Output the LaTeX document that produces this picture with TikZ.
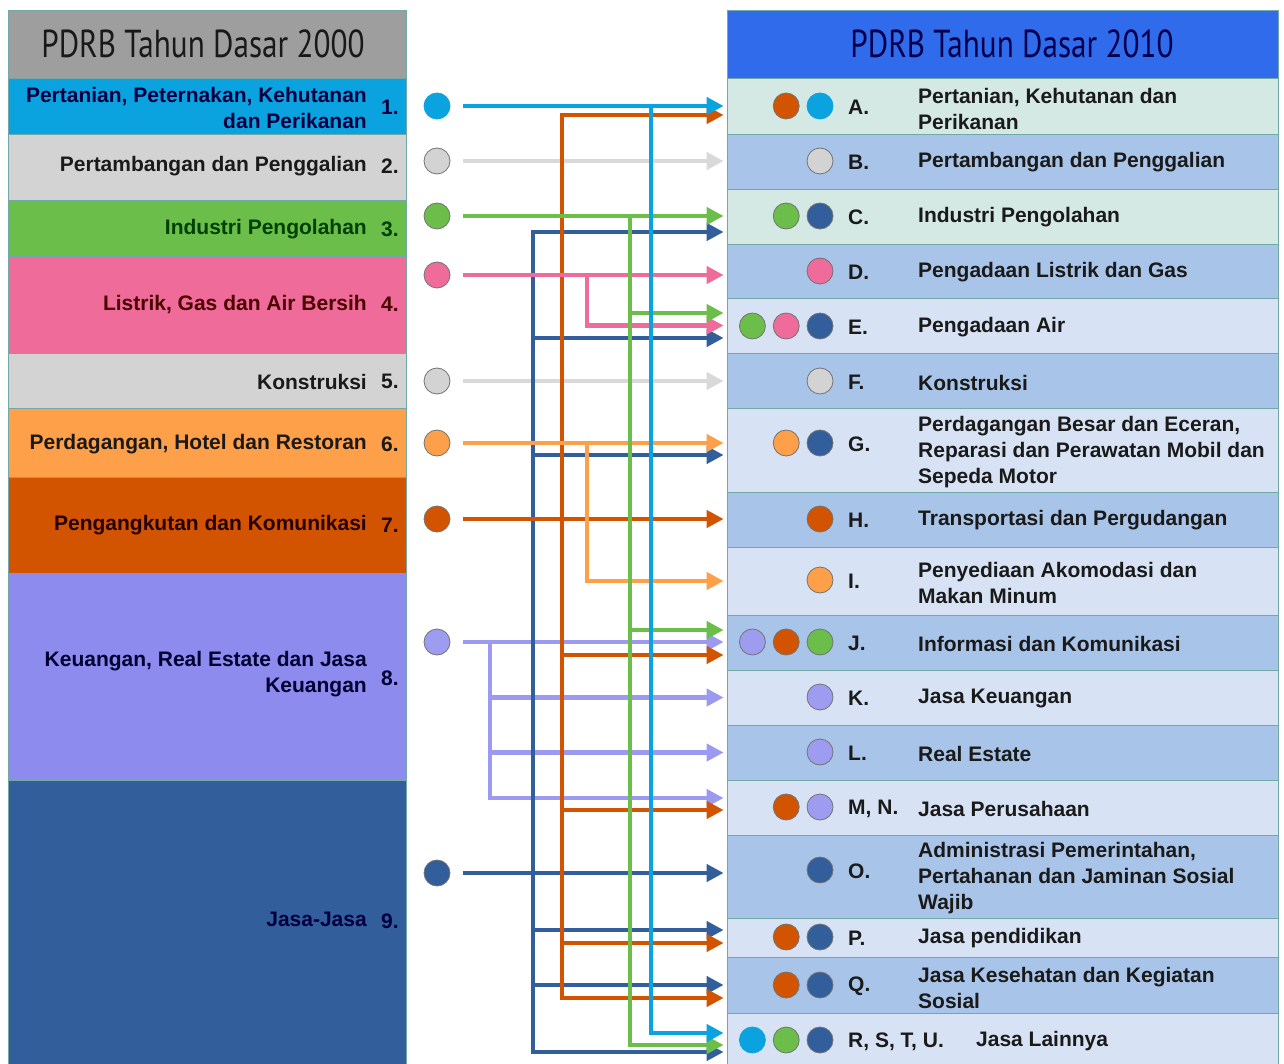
\documentclass[tikz,border=0pt]{standalone}
\usepackage{fontspec}
\setmainfont{Liberation Sans}
\newfontfamily\headfont[FakeStretch=0.80]{PT Sans}
\usetikzlibrary{arrows.meta, positioning, calc}

\definecolor{cAgri}{HTML}{0AA3E0}
\definecolor{cMine}{HTML}{D3D3D3}
\definecolor{cMineLine}{HTML}{D9D9D9}
\definecolor{cInd}{HTML}{6CBE4A}
\definecolor{cElec}{HTML}{EF6B9A}
\definecolor{cTrade}{HTML}{FDA049}
\definecolor{cTrans}{HTML}{D35400}
\definecolor{cFin}{HTML}{8D8BED}
\definecolor{cFinLine}{HTML}{9C99F0}
\definecolor{cServ}{HTML}{325E9B}
\definecolor{hdGray}{HTML}{9E9E9E}
\definecolor{hdBlue}{HTML}{2F6BEA}
\definecolor{rowMint}{HTML}{D4E8E4}
\definecolor{rowMid}{HTML}{A9C4E9}
\definecolor{rowLight}{HTML}{D7E3F4}
\definecolor{edgeTeal}{HTML}{72A8A6}
\definecolor{txtDark}{HTML}{1A1A1A}

\newcommand{\rowfont}{\bfseries\fontsize{21}{26}\selectfont}
\newcommand{\titlefont}{\headfont\fontsize{39}{40}\selectfont}

\tikzset{
  row/.style={rectangle, inner sep=0pt, draw=edgeTeal, line width=0.8pt},
  lrow/.style={row, minimum width=398},
  rrow/.style={row, minimum width=551},
  ltxt/.style={anchor=east, inner sep=0pt, align=right, font=\rowfont, yshift=-1.5pt},
  lnum/.style={anchor=west, inner sep=0pt, font=\rowfont, yshift=-1.5pt},
  rlet/.style={anchor=west, inner sep=0pt, font=\rowfont, text=txtDark, yshift=-1.5pt},
  rtxt/.style={anchor=west, inner sep=0pt, align=left, font=\rowfont, text=txtDark, yshift=-1.5pt},
  dot/.style={circle, inner sep=0pt, minimum size=26, draw=black!55, line width=0.8pt},
  flow/.style={line width=4.5pt, -{Triangle[length=17pt, width=17pt]}, shorten >=3pt},
  flowtwo/.style={flow, {Triangle[length=17pt, width=17pt]}-{Triangle[length=17pt, width=17pt]}, shorten <=3pt},
  fromdot/.style={flow, shorten <=13pt}
}

\begin{document}
\begin{tikzpicture}[x=1pt, y=-1pt]
        \fill[white] (0,0) rectangle (1284,1064);
        \useasboundingbox (0,0) rectangle (1284,1064);

        % Left column: PDRB 2000
        \node[lrow, fill=hdGray, minimum height=68, font=\titlefont, text=black!90] (h2000) at (207,44) {\hspace*{-8pt}PDRB Tahun Dasar 2000};
        \node[lrow, fill=cAgri, minimum height=56] (s1) at (207,106) {};
        \node[lrow, fill=cMine, minimum height=66] (s2) at (207,167) {};
        \node[lrow, fill=cInd, minimum height=56] (s3) at (207,228) {};
        \node[lrow, fill=cElec, minimum height=97] (s4) at (207,304.5) {};
        \node[lrow, fill=cMine, minimum height=55] (s5) at (207,380.5) {};
        \node[lrow, fill=cTrade, minimum height=69] (s6) at (207,442.5) {};
        \node[lrow, fill=cTrans, minimum height=96] (s7) at (207,525) {};
        \node[lrow, fill=cFin, minimum height=207] (s8) at (207,676.5) {};
        \node[lrow, fill=cServ, minimum height=300] (s9) at (207,930) {};

        \node[ltxt, text=blue!25!black] (t1) at (367,106) {Pertanian, Peternakan, Kehutanan\\dan Perikanan};
        \node[ltxt, text=txtDark] (t2) at (367,165) {Pertambangan dan Penggalian};
        \node[ltxt, text=green!25!black] (t3) at (367,228) {Industri Pengolahan};
        \node[ltxt, text=red!30!black] (t4) at (367,303) {Listrik, Gas dan Air Bersih};
        \node[ltxt, text=txtDark] (t5) at (367,380) {Konstruksi};
        \node[ltxt, text=txtDark] (t6) at (367,443) {Perdagangan, Hotel dan Restoran};
        \node[ltxt, text=black!85!red] (t7) at (367,524) {Pengangkutan dan Komunikasi};
        \node[ltxt, text=blue!20!black] (t8) at (367,673) {Keuangan, Real Estate dan Jasa\\Keuangan};
        \node[ltxt, text=blue!25!black] (t9) at (367,918) {Jasa-Jasa};

        \node[lnum, text=blue!25!black] (n1) at (381,106) {1.};
        \node[lnum, text=txtDark] (n2) at (381,165) {2.};
        \node[lnum, text=green!25!black] (n3) at (381,228) {3.};
        \node[lnum, text=red!30!black] (n4) at (381,303) {4.};
        \node[lnum, text=txtDark] (n5) at (381,380) {5.};
        \node[lnum, text=txtDark] (n6) at (381,443) {6.};
        \node[lnum, text=black!85!red] (n7) at (381,524) {7.};
        \node[lnum, text=blue!20!black] (n8) at (381,677) {8.};
        \node[lnum, text=blue!25!black] (n9) at (381,920) {9.};

        % Right column: PDRB 2010
        \node[rrow, fill=hdBlue, minimum height=68, font=\titlefont, text=blue!30!black] (h2010) at (1002.5,44) {\hspace*{19pt}PDRB Tahun Dasar 2010};
        \node[rrow, fill=rowMint, minimum height=56] (rA) at (1002.5,106) {};
        \node[rrow, fill=rowMid, minimum height=55] (rB) at (1002.5,161.5) {};
        \node[rrow, fill=rowMint, minimum height=55] (rC) at (1002.5,216.5) {};
        \node[rrow, fill=rowMid, minimum height=54] (rD) at (1002.5,271) {};
        \node[rrow, fill=rowLight, minimum height=55] (rE) at (1002.5,325.5) {};
        \node[rrow, fill=rowMid, minimum height=55] (rF) at (1002.5,380.5) {};
        \node[rrow, fill=rowLight, minimum height=84] (rG) at (1002.5,450) {};
        \node[rrow, fill=rowMid, minimum height=55] (rH) at (1002.5,519.5) {};
        \node[rrow, fill=rowLight, minimum height=68] (rI) at (1002.5,581) {};
        \node[rrow, fill=rowMid, minimum height=55] (rJ) at (1002.5,642.5) {};
        \node[rrow, fill=rowLight, minimum height=55] (rK) at (1002.5,697.5) {};
        \node[rrow, fill=rowMid, minimum height=55] (rL) at (1002.5,752.5) {};
        \node[rrow, fill=rowLight, minimum height=55] (rM) at (1002.5,807.5) {};
        \node[rrow, fill=rowMid, minimum height=83] (rO) at (1002.5,876.5) {};
        \node[rrow, fill=rowLight, minimum height=39] (rP) at (1002.5,937.5) {};
        \node[rrow, fill=rowMid, minimum height=56] (rQ) at (1002.5,985) {};
        \node[rrow, fill=rowLight, minimum height=61] (rU) at (1002.5,1043.5) {};

        \node[rlet] (lA) at (848,106) {A.};
        \node[rlet] (lB) at (848,161) {B.};
        \node[rlet] (lC) at (848,216) {C.};
        \node[rlet] (lD) at (848,271) {D.};
        \node[rlet] (lE) at (848,326) {E.};
        \node[rlet] (lF) at (848,381) {F.};
        \node[rlet] (lG) at (848,443) {G.};
        \node[rlet] (lH) at (848,519) {H.};
        \node[rlet] (lI) at (848,580) {I.};
        \node[rlet] (lJ) at (848,642) {J.};
        \node[rlet] (lK) at (848,697) {K.};
        \node[rlet] (lL) at (848,752) {L.};
        \node[rlet] (lM) at (848,807) {M, N.};
        \node[rlet] (lO) at (848,870) {O.};
        \node[rlet] (lP) at (848,937) {P.};
        \node[rlet] (lQ) at (848,985) {Q.};
        \node[rlet] (lU) at (848,1040) {R, S, T, U.};

        \node[rtxt] (xA) at (918,107) {Pertanian, Kehutanan dan\\Perikanan};
        \node[rtxt] (xB) at (918,161) {Pertambangan dan Penggalian};
        \node[rtxt] (xC) at (918,216) {Industri Pengolahan};
        \node[rtxt] (xD) at (918,271) {Pengadaan Listrik dan Gas};
        \node[rtxt] (xE) at (918,326) {Pengadaan Air};
        \node[rtxt] (xF) at (918,381) {Konstruksi};
        \node[rtxt] (xG) at (918,451) {Perdagangan Besar dan Eceran,\\Reparasi dan Perawatan Mobil dan\\Sepeda Motor};
        \node[rtxt] (xH) at (918,519) {Transportasi dan Pergudangan};
        \node[rtxt] (xI) at (918,581) {Penyediaan Akomodasi dan\\Makan Minum};
        \node[rtxt] (xJ) at (918,642) {Informasi dan Komunikasi};
        \node[rtxt] (xK) at (918,697) {Jasa Keuangan};
        \node[rtxt] (xL) at (918,752) {Real Estate};
        \node[rtxt] (xM) at (918,807) {Jasa Perusahaan};
        \node[rtxt] (xO) at (918,877) {Administrasi Pemerintahan,\\Pertahanan dan Jaminan Sosial\\Wajib};
        \node[rtxt] (xP) at (918,937) {Jasa pendidikan};
        \node[rtxt] (xQ) at (918,986) {Jasa Kesehatan dan Kegiatan\\Sosial};
        \node[rtxt] (xU) at (976,1040) {Jasa Lainnya};

        % Dots, left
        \node[dot, fill=cAgri, draw=cAgri] (d1) at (437,106) {};
        \node[dot, fill=cMine] (d2) at (437,161) {};
        \node[dot, fill=cInd] (d3) at (437,216) {};
        \node[dot, fill=cElec] (d4) at (437,275) {};
        \node[dot, fill=cMine] (d5) at (437,381) {};
        \node[dot, fill=cTrade] (d6) at (437,443) {};
        \node[dot, fill=cTrans] (d7) at (437,519) {};
        \node[dot, fill=cFin!85!white] (d8) at (437,642) {};
        \node[dot, fill=cServ] (d9) at (437,873) {};

        % Dots, right
        \node[dot, fill=cAgri, draw=cAgri] (pA2) at (820,106) {};
        \node[dot, fill=cTrans, left=7pt of pA2] (pA1) {};
        \node[dot, fill=cMine] (pB1) at (820,161) {};
        \node[dot, fill=cServ] (pC2) at (820,216) {};
        \node[dot, fill=cInd, left=7pt of pC2] (pC1) {};
        \node[dot, fill=cElec] (pD1) at (820,271) {};
        \node[dot, fill=cServ] (pE3) at (820,326) {};
        \node[dot, fill=cElec, left=7pt of pE3] (pE2) {};
        \node[dot, fill=cInd, left=7pt of pE2] (pE1) {};
        \node[dot, fill=cMine] (pF1) at (820,381) {};
        \node[dot, fill=cServ] (pG2) at (820,443) {};
        \node[dot, fill=cTrade, left=7pt of pG2] (pG1) {};
        \node[dot, fill=cTrans] (pH1) at (820,519) {};
        \node[dot, fill=cTrade] (pI1) at (820,580) {};
        \node[dot, fill=cInd] (pJ3) at (820,642) {};
        \node[dot, fill=cTrans, left=7pt of pJ3] (pJ2) {};
        \node[dot, fill=cFin!85!white, left=7pt of pJ2] (pJ1) {};
        \node[dot, fill=cFin!85!white] (pK1) at (820,697) {};
        \node[dot, fill=cFin!85!white] (pL1) at (820,752) {};
        \node[dot, fill=cFin!85!white] (pM2) at (820,807) {};
        \node[dot, fill=cTrans, left=7pt of pM2] (pM1) {};
        \node[dot, fill=cServ] (pO1) at (820,870) {};
        \node[dot, fill=cServ] (pP2) at (820,937) {};
        \node[dot, fill=cTrans, left=7pt of pP2] (pP1) {};
        \node[dot, fill=cServ] (pQ2) at (820,985) {};
        \node[dot, fill=cTrans, left=7pt of pQ2] (pQ1) {};
        \node[dot, fill=cServ] (pU3) at (820,1040) {};
        \node[dot, fill=cInd, left=7pt of pU3] (pU2) {};
        \node[dot, fill=cAgri, draw=cAgri, left=7pt of pU2] (pU1) {};

        % Bus lines and arrow ends
        \coordinate (bFin) at (490,0);
        \coordinate (bServ) at (533,0);
        \coordinate (bTrans) at (562,0);
        \coordinate (bSplit) at (587,0);
        \coordinate (bInd) at (630,0);
        \coordinate (bAgri) at (651,0);
        \coordinate (eA2) at ([yshift=-9pt]rA.west);
        \coordinate (eC2) at ([yshift=-15.5pt]rC.west);
        \coordinate (eE1) at ([yshift=12.5pt]rE.west);
        \coordinate (eE3) at ([yshift=-12.5pt]rE.west);
        \coordinate (eG2) at ([yshift=-5pt]rG.west);
        \coordinate (eJ1) at ([yshift=12.5pt]rJ.west);
        \coordinate (eJ3) at ([yshift=-12.5pt]rJ.west);
        \coordinate (eM1) at ([yshift=9.5pt]rM.west);
        \coordinate (eM2) at ([yshift=-2.5pt]rM.west);
        \coordinate (eP1) at ([yshift=7.5pt]rP.west);
        \coordinate (eP2) at ([yshift=-5.5pt]rP.west);
        \coordinate (eQ2) at ([yshift=-13pt]rQ.west);
        \coordinate (eU1) at ([yshift=10.5pt]rU.west);
        \coordinate (eU2) at ([yshift=-1.5pt]rU.west);
        \coordinate (eU3) at ([yshift=-8.5pt]rU.west);

        % Arrows
        \draw[fromdot, cMineLine] (d2.east) -- (d2 -| rB.west);
        \draw[fromdot, cMineLine] (d5.east) -- (d5 -| rF.west);

        \draw[fromdot, cFinLine] (d8.east) -- (d8 -| rJ.west);
        \draw[flow, cFinLine] (bFin |- d8) |- (eM1);
        \draw[flow, cFinLine] (bFin |- rK.west) -- (rK.west);
        \draw[flow, cFinLine] (bFin |- rL.west) -- (rL.west);

        \draw[fromdot, cServ] (d9.east) -- (d9 -| rO.west);
        \draw[flowtwo, cServ] (eC2) -| (bServ |- eU3) -- (eU3);
        \draw[flow, cServ] (bServ |- eE3) -- (eE3);
        \draw[flow, cServ] (bServ |- eG2) -- (eG2);
        \draw[flow, cServ] (bServ |- eP1) -- (eP1);
        \draw[flow, cServ] (bServ |- rQ.west) -- (rQ.west);

        \draw[fromdot, cTrans] (d7.east) -- (d7 -| rH.west);
        \draw[flowtwo, cTrans] (eA2) -| (bTrans |- eQ2) -- (eQ2);
        \draw[flow, cTrans] (bTrans |- eJ3) -- (eJ3);
        \draw[flow, cTrans] (bTrans |- eM2) -- (eM2);
        \draw[flow, cTrans] (bTrans |- eP2) -- (eP2);

        \draw[fromdot, cElec] (d4.east) -- (d4 -| rD.west);
        \draw[flow, cElec] (bSplit |- d4) |- (rE.west);

        \draw[fromdot, cTrade] (d6.east) -- (d6 -| rG.west);
        \draw[flow, cTrade] (bSplit |- d6) |- (rI.west);

        \draw[fromdot, cInd] (d3.east) -- (d3 -| rC.west);
        \draw[flow, cInd] (bInd |- d3) |- (eU2);
        \draw[flow, cInd] (bInd |- eE1) -- (eE1);
        \draw[flow, cInd] (bInd |- eJ1) -- (eJ1);

        \draw[fromdot, cAgri] (d1.east) -- (d1 -| rA.west);
        \draw[flow, cAgri] (bAgri |- d1) |- (eU1);
    \end{tikzpicture}
\end{document}
